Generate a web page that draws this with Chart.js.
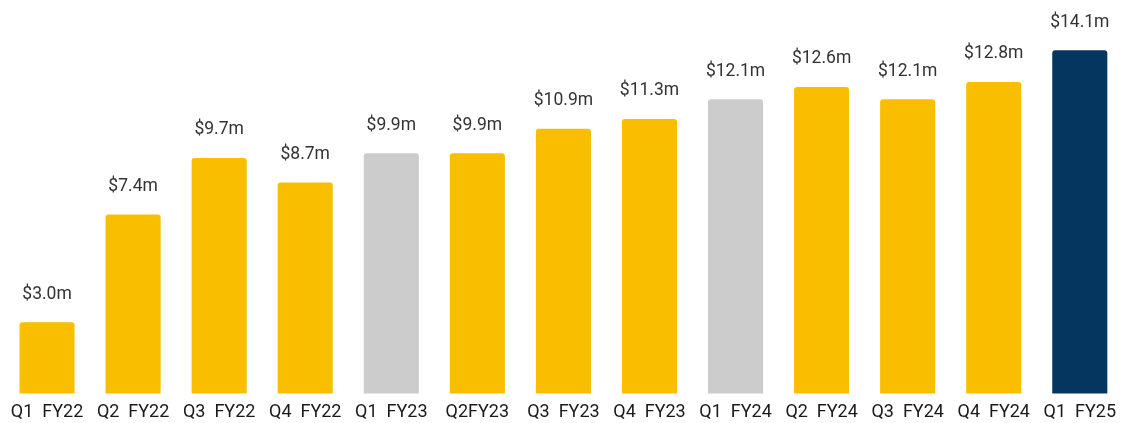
<!DOCTYPE html>
<html><head><meta charset="utf-8">
<script src="https://cdn.jsdelivr.net/npm/chart.js@4"></script>
<style>html,body{margin:0;padding:0;background:#fff}#wrap{width:1124px;height:423px}</style>
</head><body><div id="wrap"><canvas id="c"></canvas></div>
<script>
const categories = ["Q1  FY22","Q2  FY22","Q3  FY22","Q4  FY22","Q1  FY23","Q2FY23","Q3  FY23","Q4  FY23","Q1  FY24","Q2  FY24","Q3  FY24","Q4  FY24","Q1  FY25"];
const revenue = [3.0,7.4,9.7,8.7,9.9,9.9,10.9,11.3,12.1,12.6,12.1,12.8,14.1];
const valueLabels = ["$3.0m","$7.4m","$9.7m","$8.7m","$9.9m","$9.9m","$10.9m","$11.3m","$12.1m","$12.6m","$12.1m","$12.8m","$14.1m"];
const YELLOW="#F9BE00", GREY="#CCCCCC", NAVY="#05365F";
const barColors = [YELLOW,YELLOW,YELLOW,YELLOW,GREY,YELLOW,YELLOW,YELLOW,GREY,YELLOW,YELLOW,YELLOW,NAVY];

const valuePlugin = {
  id:'vals',
  afterDatasetsDraw(chart){
    const ctx=chart.ctx;
    const meta=chart.getDatasetMeta(0);
    ctx.save();
    ctx.font='17.5px Roboto';
    ctx.fillStyle='#333333';
    ctx.textAlign='center';
    ctx.textBaseline='middle';
    meta.data.forEach((bar,i)=>{
      ctx.fillText(valueLabels[i], bar.x, bar.y-28);
    });
    ctx.restore();
  }
};

new Chart(document.getElementById('c'),{
  type:'bar',
  data:{labels:categories,datasets:[{data:revenue,backgroundColor:barColors,borderRadius:3,borderSkipped:'start',categoryPercentage:1,barPercentage:0.64}]},
  options:{
    responsive:true,maintainAspectRatio:false,animation:false,
    layout:{padding:{left:4,right:0,top:0,bottom:-8}},
    plugins:{legend:{display:false},tooltip:{enabled:false}},
    scales:{
      x:{grid:{display:false,drawTicks:false},border:{display:false},ticks:{color:'#1a1a1a',font:{family:'Roboto',size:18},padding:8,maxRotation:0,autoSkip:false}},
      y:{display:false,min:0.1,max:16.15}
    }
  },
  plugins:[valuePlugin]
});
</script></body></html>
